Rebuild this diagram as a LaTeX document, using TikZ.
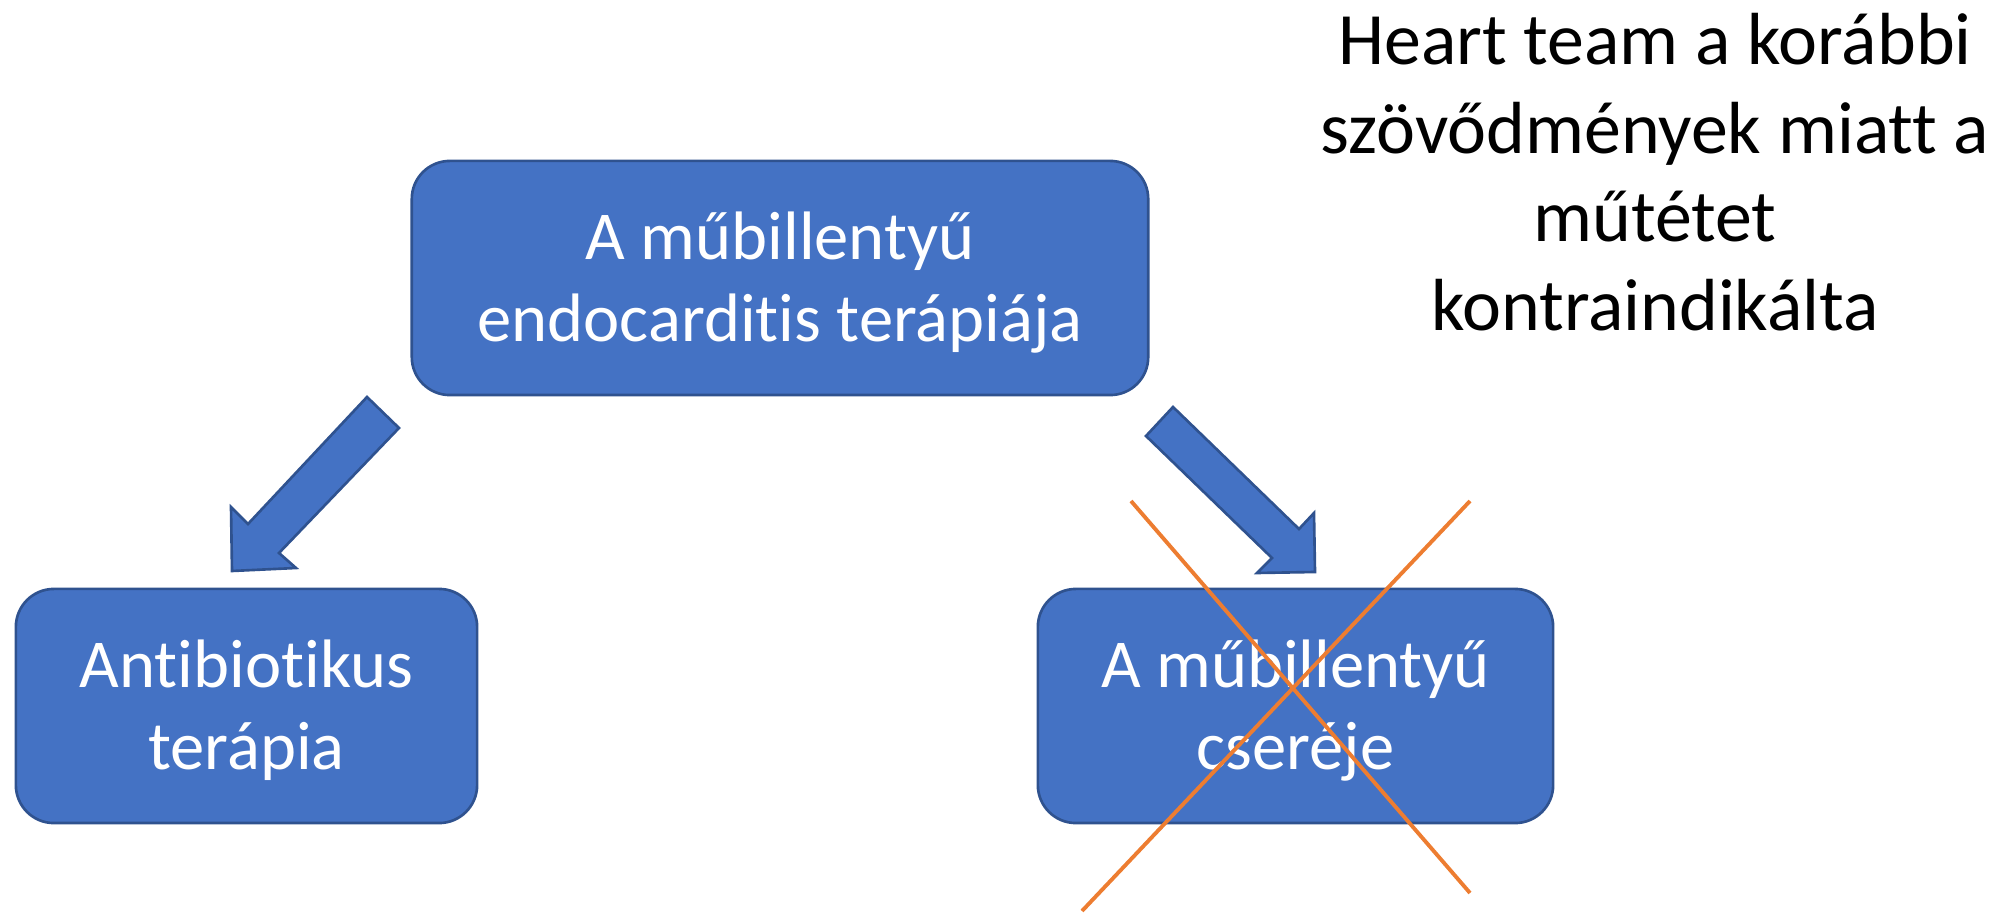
\documentclass[tikz,border=0pt]{standalone}
\usepackage{fontspec}
\setmainfont{Carlito}[Ligatures=NoCommon]
\usetikzlibrary{positioning}

\definecolor{boxblue}{HTML}{4472C4}
\definecolor{boxline}{HTML}{2F528F}
\definecolor{crossorange}{HTML}{ED7D31}

% struts so every box text sits on the same lines
\newcommand{\linetop}{\rule{0pt}{1em}}
\newcommand{\linebot}{\rule[-0.34em]{0pt}{0.34em}}

\begin{document}
\begin{tikzpicture}[
  x=0.01cm, y=-0.01cm,
  box/.style={draw=boxline, fill=boxblue, line width=0.75pt, rounded corners=0.38cm,
    minimum height=2.34cm, align=center, text=white, font=\fontsize{19.5}{23.5}\selectfont, inner sep=2pt},
  blockarrow/.style={draw=boxline, fill=boxblue, line width=0.75pt, line join=miter},
  cross/.style={draw=crossorange, line width=1.1pt},
  note/.style={align=center, text=black, font=\fontsize{21}{25.2}\selectfont, inner sep=0pt}
]
\useasboundingbox (0,0) rectangle (2012,913);

\node[box, minimum width=7.36cm] (therapy)    at (780,278)    {\linetop A műbillentyű\\endocarditis terápiája\linebot};
\node[box, minimum width=4.61cm] (antibiotic) at (246.5,706)  {\linetop Antibiotikus\\terápia\linebot};
\node[box, minimum width=5.15cm] (replace)    at (1295.5,706) {\linetop A műbillentyű\\cseréje\linebot};

\node[note] (heartteam) at (1655,172)
  {Heart team a korábbi\\szövődmények miatt a\\műtétet\\kontraindikálta};

% block arrows
\draw[blockarrow] (367,397) -- (399,428) -- (279,553) -- (296,568) -- (232,571)
  -- (231,507) -- (248,524) -- cycle;
\draw[blockarrow] (1173,407) -- (1146,436) -- (1272,558) -- (1257,573) -- (1315,572)
  -- (1314,513) -- (1299,529) -- cycle;

% crossed out
\draw[cross] (1131,501) -- (1470,893);
\draw[cross] (1470,501) -- (1082,911);

\end{tikzpicture}
\end{document}
